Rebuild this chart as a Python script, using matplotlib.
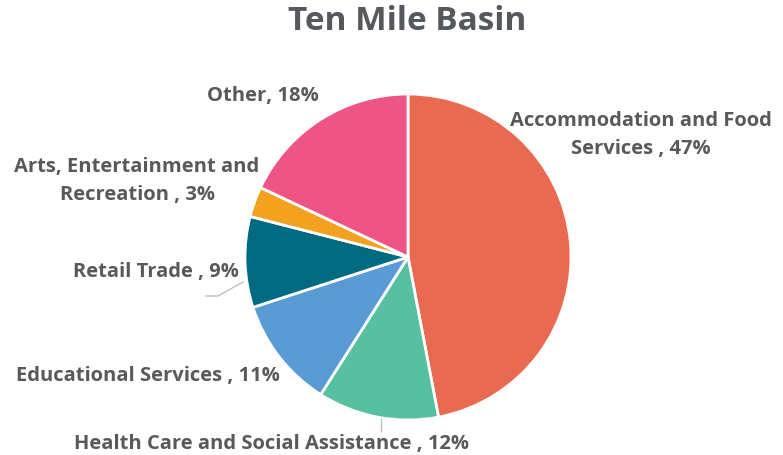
import matplotlib
matplotlib.use("Agg")
import matplotlib.pyplot as plt

categories = ["Accommodation and Food Services", "Health Care and Social Assistance",
              "Educational Services", "Retail Trade", "Arts, Entertainment and Recreation", "Other"]
values = [47, 12, 11, 9, 3, 18]
colors = ["#E96A50", "#57C0A0", "#5B9BD5", "#006B80", "#F4A11F", "#EE5586"]
labels = ["Accommodation and Food\nServices , 47%", "Health Care and Social Assistance , 12%",
          "Educational Services , 11%", "Retail Trade , 9%",
          "Arts, Entertainment and\nRecreation , 3%", "Other, 18%"]

W, H = 783, 456
fig = plt.figure(figsize=(W / 100, H / 100), dpi=100)
cx, cy, R = 408, 258, 163
ax = fig.add_axes([(cx - R) / W, (H - cy - R) / H, 2 * R / W, 2 * R / H])
ax.pie(values, colors=colors, startangle=90, counterclock=False,
       wedgeprops=dict(edgecolor="white", linewidth=2))
ax.set_xlim(-1, 1)
ax.set_ylim(-1, 1)
ax.set_aspect("equal")
ax.axis("off")

def d(px, py):
    return ((px - cx) / R, (cy - py) / R)

label_pos = [(641, 135), (271, 444), (148, 376), (156, 272), (137, 181), (263, 96)]
txt_color = "#595959"
for lab, (px, py) in zip(labels, label_pos):
    x, y = d(px, py)
    ax.text(x, y, lab, ha="center", va="center", fontsize=14.5, fontweight="bold",
            color=txt_color, family=["Open Sans", "DejaVu Sans"], linespacing=1.55, clip_on=False)

# leader lines
for pts in [[(243, 283), (218, 297), (206, 297)], [(381, 420), (381, 432)]]:
    xs, ys = zip(*[d(*p) for p in pts])
    ax.plot(xs, ys, color="#BFBFBF", lw=1, clip_on=False)

fig.text(407 / W, 1 - 21 / H, "Ten Mile Basin", ha="center", va="center",
         fontsize=24, fontweight="bold", color="#55595D", family=["Open Sans", "DejaVu Sans"])

fig.savefig("out.png", dpi=100)
